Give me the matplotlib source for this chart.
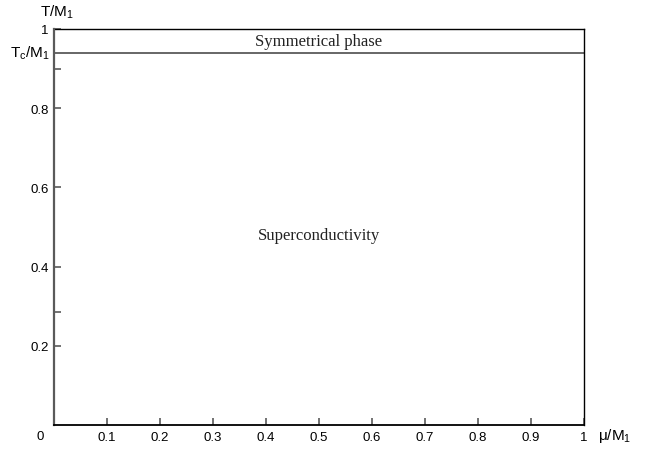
import matplotlib
matplotlib.use("Agg")
import matplotlib.pyplot as plt

# phase diagram values
t_top = 1.0
t_crit = 0.94
x_ticks = [0.1, 0.2, 0.3, 0.4, 0.5, 0.6, 0.7, 0.8, 0.9, 1.0]
x_labels = ["0.1", "0.2", "0.3", "0.4", "0.5", "0.6", "0.7", "0.8", "0.9", "1"]
y_ticks = [0.2, 0.4, 0.6, 0.8, 1.0]
y_labels = ["0.2", "0.4", "0.6", "0.8", "1"]
y_minor = [0.285, 0.9]
regions = ["Symmetrical phase", "Superconductivity"]
region_pos = [(0.5, 0.97), (0.5, 0.48)]

plt.rcParams["font.family"] = ["Liberation Sans", "DejaVu Sans"]
plt.rcParams["mathtext.fontset"] = "custom"
plt.rcParams["mathtext.rm"] = "Liberation Sans"
plt.rcParams["mathtext.it"] = "Liberation Sans"

fig = plt.figure(figsize=(6.61, 4.52), dpi=100)
ax = fig.add_axes([54 / 661, 1 - 426 / 452, 530 / 661, 396 / 452])
ax.set_xlim(0, 1)
ax.set_ylim(0, 1)

grey = "#5a5a5a"
ax.spines["top"].set_visible(False)
ax.spines["left"].set_color(grey)
ax.spines["left"].set_linewidth(1.6)
ax.spines["bottom"].set_color("black")
ax.spines["bottom"].set_linewidth(1.3)
ax.spines["right"].set_color("black")
ax.spines["right"].set_linewidth(1.0)

ax.axhline(t_top, color="black", lw=1.0, clip_on=False)
ax.axhline(t_crit, color=grey, lw=1.3)

ax.set_xticks(x_ticks)
ax.set_xticklabels(x_labels)
ax.set_yticks(y_ticks)
ax.set_yticklabels(y_labels)
ax.set_yticks(y_minor, minor=True)
ax.tick_params(axis="both", direction="in", length=5, width=1.2, color=grey,
               labelsize=9.5, pad=4)
ax.tick_params(axis="y", which="minor", direction="in", length=5, width=1.2,
               color=grey)

ax.text(-0.008, t_crit, r"$\mathrm{T_c/M_1}$", transform=ax.get_yaxis_transform(),
        ha="right", va="center", fontsize=11)
ax.text(0.006, 1.045, r"$\mathrm{T/M_1}$", transform=ax.transAxes,
        ha="center", va="center", fontsize=11)
ax.text(-0.026, -0.028, "0", transform=ax.transAxes, ha="center", va="center",
        fontsize=9.5)
ax.text(1.027, -0.026, r"$\mathrm{\mu/M_1}$", transform=ax.transAxes,
        ha="left", va="center", fontsize=11)

for name, (xp, yp) in zip(regions, region_pos):
    ax.text(xp, yp, name, ha="center", va="center", fontsize=12,
            family="Liberation Serif", color="#222222")

fig.savefig("out.png", dpi=100)
